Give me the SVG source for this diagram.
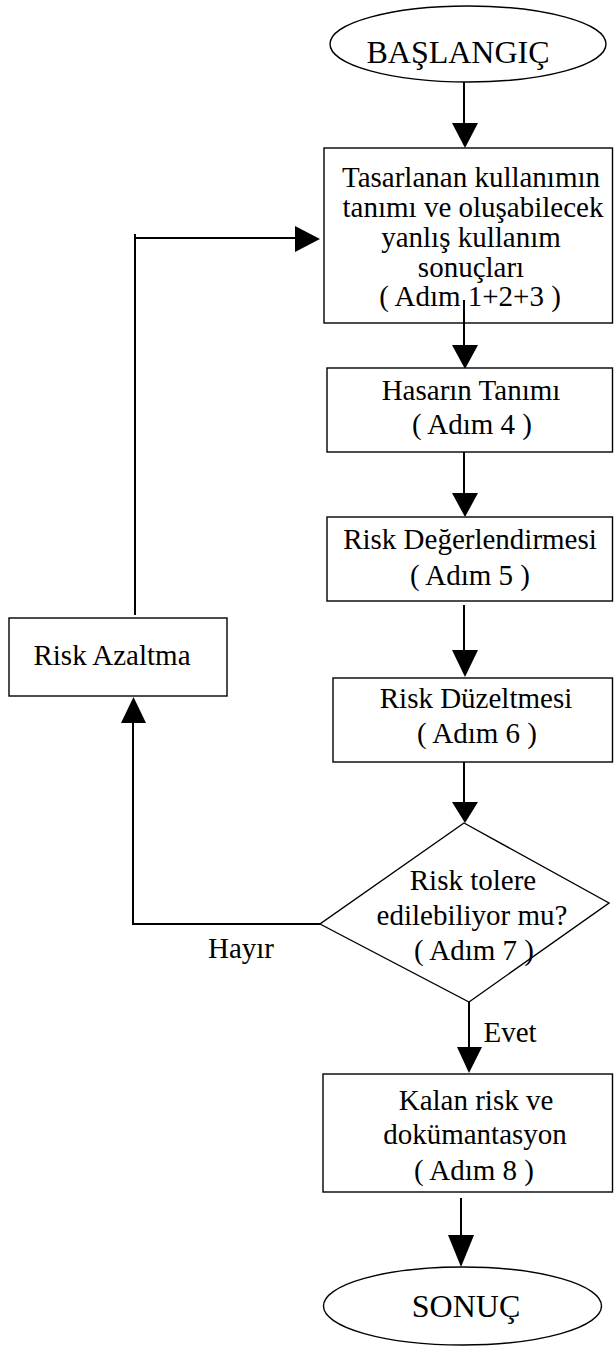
<svg xmlns="http://www.w3.org/2000/svg" width="614" height="1349" viewBox="0 0 614 1349">
<style>
.n{fill:#fff;stroke:#000;stroke-width:1.4}
.t{font-family:"Liberation Serif","Times New Roman",serif;font-size:29px;fill:#000;text-anchor:middle}
.e{font-size:32px}
.c{fill:none;stroke:#000;stroke-width:2}
.h{fill:#000;stroke:none}
</style>
<rect width="614" height="1349" fill="#fff"/>
<g id="connectors">
<line class="c" x1="464" y1="82" x2="464" y2="125"/>
<polygon class="h" points="452,123 478,123 465,148"/>
<line class="c" x1="464" y1="300" x2="464" y2="347"/>
<polygon class="h" points="452,345 478,345 465,369"/>
<line class="c" x1="464" y1="451" x2="464" y2="495"/>
<polygon class="h" points="452,493 478,493 465,517"/>
<line class="c" x1="464" y1="605" x2="464" y2="652"/>
<polygon class="h" points="452,650 478,650 465,677"/>
<line class="c" x1="464" y1="758" x2="464" y2="804"/>
<polygon class="h" points="452,802 478,802 465,823"/>
<line class="c" x1="469" y1="1002" x2="469" y2="1049"/>
<polygon class="h" points="457,1047 482,1047 469,1073"/>
<line class="c" x1="461" y1="1198" x2="461" y2="1237"/>
<polygon class="h" points="448,1235 474,1235 461,1267"/>
<polyline class="c" points="320,924 133,924 133,721"/>
<polygon class="h" points="121,723 146,723 133.5,697"/>
<line class="c" x1="135" y1="615" x2="135" y2="234"/>
<line class="c" x1="134" y1="238" x2="297" y2="238"/>
<polygon class="h" points="295,226 295,252 320,239"/>
</g>
<g id="start">
<ellipse class="n" cx="468" cy="44" rx="138" ry="38"/>
<text class="t e" x="458" y="63">BAŞLANGIÇ</text>
</g>
<g id="step123">
<rect class="n" x="324" y="148" width="288.5" height="175"/>
<text class="t" x="471" y="187">Tasarlanan kullanımın</text>
<text class="t" x="473" y="217">tanımı ve oluşabilecek</text>
<text class="t" x="471" y="247">yanlış kullanım</text>
<text class="t" x="471" y="277">sonuçları</text>
<text class="t" x="470" y="306">( Adım 1+2+3 )</text>
</g>
<line class="c" x1="464" y1="300" x2="464" y2="324"/>
<g id="step4">
<rect class="n" x="327" y="368" width="285.5" height="84"/>
<text class="t" x="471" y="400">Hasarın Tanımı</text>
<text class="t" x="472" y="434">( Adım 4 )</text>
</g>
<g id="step5">
<rect class="n" x="327" y="517" width="285.5" height="84"/>
<text class="t" x="470" y="549">Risk Değerlendirmesi</text>
<text class="t" x="470" y="585">( Adım 5 )</text>
</g>
<g id="step6">
<rect class="n" x="333" y="678" width="279.5" height="84"/>
<text class="t" x="476" y="708">Risk Düzeltmesi</text>
<text class="t" x="477" y="743">( Adım 6 )</text>
</g>
<g id="decision">
<polygon class="n" points="464,823 609,903 469,1002 320,924"/>
<text class="t" x="473" y="890">Risk tolere</text>
<text class="t" x="472" y="925">edilebiliyor mu?</text>
<text class="t" x="474" y="960">( Adım 7 )</text>
</g>
<g id="reduce">
<rect class="n" x="9" y="618" width="218" height="78"/>
<text class="t" x="112" y="665">Risk Azaltma</text>
</g>
<g id="labels">
<text class="t" x="241" y="958">Hayır</text>
<text class="t" x="510" y="1042">Evet</text>
</g>
<g id="step8">
<rect class="n" x="323" y="1074" width="289.5" height="118"/>
<text class="t" x="476" y="1110">Kalan risk ve</text>
<text class="t" x="475" y="1144">dokümantasyon</text>
<text class="t" x="474" y="1180">( Adım 8 )</text>
</g>
<g id="end">
<ellipse class="n" cx="462.5" cy="1306" rx="139" ry="39"/>
<text class="t e" x="466" y="1317">SONUÇ</text>
</g>
</svg>
